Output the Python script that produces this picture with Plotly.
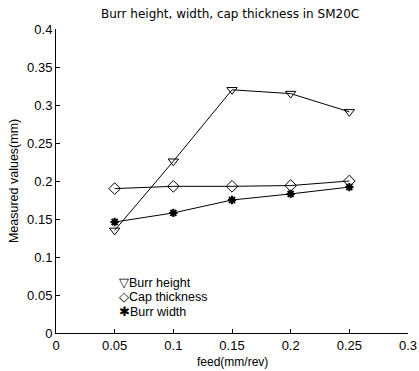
import plotly.graph_objects as go

feed = [0.05, 0.10, 0.15, 0.20, 0.25]
burr_height = [0.135, 0.226, 0.320, 0.315, 0.291]
cap_thickness = [0.190, 0.193, 0.193, 0.194, 0.200]
burr_width = [0.146, 0.158, 0.175, 0.183, 0.192]

x_ticks = [0, 0.05, 0.1, 0.15, 0.2, 0.25, 0.3]
x_labels = ["0", "0.05", "0.1", "0.15", "0.2", "0.25", "0.3"]
y_ticks = [0, 0.05, 0.1, 0.15, 0.2, 0.25, 0.3, 0.35, 0.4]
y_labels = ["0", "0.05", "0.1", "0.15", "0.2", "0.25", "0.3", "0.35", "0.4"]

legend_names = ["Burr height", "Cap thickness", "Burr width"]
legend_glyphs = ["\u25BD", "\u25C7", "\u2731"]

series = [
    (burr_height, dict(symbol="triangle-down-open", size=9, color="black", line=dict(width=1, color="black"))),
    (cap_thickness, dict(symbol="diamond-open", size=9, color="black", line=dict(width=1, color="black"))),
    (burr_width, dict(symbol="asterisk-open", size=7, color="black", line=dict(width=2, color="black"))),
]

FONT = "Liberation Sans, Arial, sans-serif"

fig = go.Figure()
for name, (vals, mk) in zip(legend_names, series):
    fig.add_trace(go.Scatter(x=feed, y=vals, mode="lines+markers", name=name,
                             line=dict(color="black", width=1), marker=mk, showlegend=False))

# legend drawn as text rows (marker glyph directly followed by name)
legend_y = [0.164, 0.117, 0.070]
for g, n, yy in zip(legend_glyphs, legend_names, legend_y):
    fig.add_annotation(xref="paper", yref="paper", x=0.174, y=yy, xanchor="left", yanchor="middle",
                       text=g + n, showarrow=False, align="left",
                       font=dict(family=FONT, size=12.5, color="black"))

# title
fig.add_annotation(xref="paper", yref="paper", x=0.495, y=1.049, xanchor="center", yanchor="middle",
                   text="Burr height, width, cap thickness in SM20C", showarrow=False,
                   font=dict(family="DejaVu Sans, sans-serif", size=12, color="black"))
# axis titles
fig.add_annotation(xref="paper", yref="paper", x=0.5, y=-0.095, xanchor="center", yanchor="middle",
                   text="feed(mm/rev)", showarrow=False,
                   font=dict(family=FONT, size=12, color="black"))
fig.add_annotation(xref="paper", yref="paper", x=-0.119, y=0.5, xanchor="center", yanchor="middle",
                   text="Measured values(mm)", showarrow=False, textangle=-90,
                   font=dict(family=FONT, size=12.5, color="black"))

fig.update_layout(
    width=419, height=371,
    margin=dict(l=56, r=11, t=29, b=38),
    paper_bgcolor="white", plot_bgcolor="white",
    font=dict(family=FONT, size=12, color="black"),
    showlegend=False,
)
fig.update_xaxes(range=[0, 0.3], tickvals=x_ticks, ticktext=x_labels, showgrid=False, zeroline=False,
                 showline=True, linecolor="black", linewidth=1, ticks="inside", ticklen=4,
                 tickcolor="black", automargin=False, tickfont=dict(size=13),
                 ticklabeloverflow="allow")
fig.update_yaxes(range=[0, 0.4], tickvals=y_ticks, ticktext=y_labels, showgrid=False, zeroline=False,
                 showline=True, linecolor="black", linewidth=1, ticks="inside", ticklen=4,
                 tickcolor="black", automargin=False, tickfont=dict(size=13),
                 ticklabeloverflow="allow")

fig.write_html("out.html", config={"displayModeBar": False},
               post_script="document.body.style.margin='0';document.body.style.overflow='hidden';")
